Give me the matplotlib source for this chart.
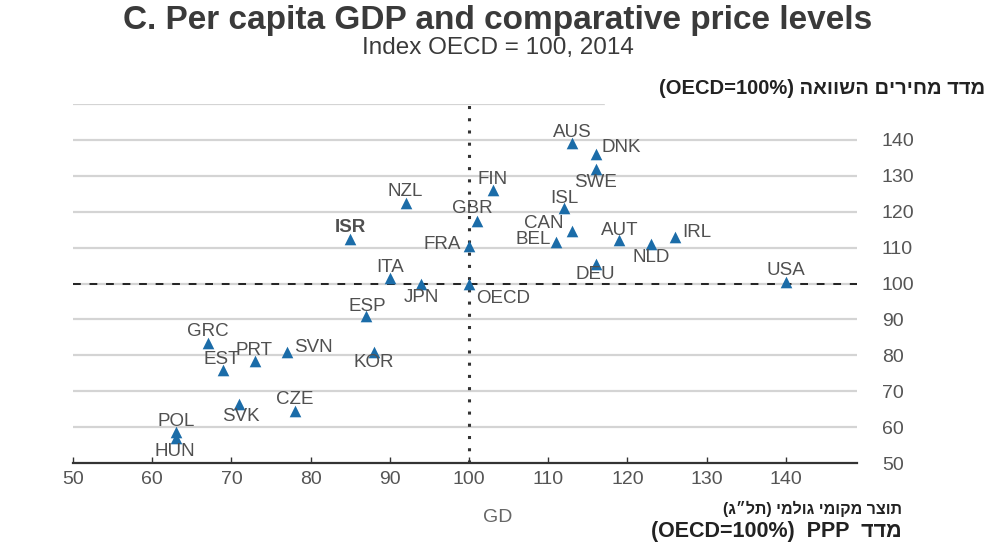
import matplotlib.pyplot as plt
from matplotlib.patches import Rectangle

# data: GDP per capita (x) and price level (y), OECD = 100
countries = ["AUS", "DNK", "SWE", "FIN", "ISL", "CAN", "BEL", "AUT", "NLD", "IRL",
             "DEU", "USA", "OECD", "GBR", "FRA", "NZL", "ISR", "ITA", "JPN", "ESP",
             "GRC", "PRT", "SVN", "EST", "KOR", "CZE", "SVK", "POL", "HUN"]
gdp = [113, 116, 116, 103, 112, 113, 111, 119, 123, 126,
       116, 140, 100, 101, 100, 92, 85, 90, 94, 87,
       67, 73, 77, 69, 88, 78, 71, 63, 63]
prices = [139, 136, 132, 126, 121, 114.5, 111.5, 112, 111, 113,
          105.5, 100.5, 100, 117.5, 110.5, 122.5, 112.5, 101.5, 100, 91,
          83.5, 78.5, 81, 76, 81, 64.5, 66.5, 58.5, 57]

x_ticks = [50, 60, 70, 80, 90, 100, 110, 120, 130, 140]
y_ticks = [50, 60, 70, 80, 90, 100, 110, 120, 130, 140]

# label placement (offset in points, alignment)
label_pos = {
    "AUS": (0, 8, "center"), "DNK": (4, 5, "left"), "SWE": (0, -10, "center"),
    "FIN": (0, 8, "center"), "ISL": (0, 7, "center"), "CAN": (-6, 6, "right"),
    "BEL": (-4, 2, "right"), "AUT": (0, 7, "center"), "NLD": (0, -10, "center"),
    "IRL": (5, 3, "left"), "DEU": (0, -8, "center"), "USA": (0, 8, "center"),
    "OECD": (5, -11, "left"), "GBR": (-3, 9, "center"), "FRA": (-6, 1, "right"),
    "NZL": (0, 8, "center"), "ISR": (0, 8, "center"), "ITA": (0, 8, "center"),
    "JPN": (0, -10, "center"), "ESP": (1, 7, "center"), "GRC": (0, 8, "center"),
    "PRT": (-1, 7, "center"), "SVN": (5, 3, "left"), "EST": (-1, 7, "center"),
    "KOR": (0, -8, "center"), "CZE": (0, 8, "center"), "SVK": (1, -9, "center"),
    "POL": (0, 8, "center"), "HUN": (-1, -10, "center"),
}

plt.rcParams["font.family"] = ["Liberation Sans", "DejaVu Sans"]
grey = "#505050"
blue = "#1b6ca8"

fig = plt.figure(figsize=(9.95, 5.44), dpi=100)
ax = fig.add_axes([73 / 995, 1 - 463 / 544, (857 - 73) / 995, (463 - 104) / 544])

ax.set_xlim(50, 149)
ax.set_ylim(50, 150)

for v in y_ticks[1:] + [150]:
    ax.axhline(v, color="#d4d4d4", lw=1.6, zorder=0)
ax.axhline(100, color="#222222", lw=1.4, ls=(0, (4, 4.5)), zorder=1)
ax.axvline(100, color="#333333", lw=2.2, ls=(0, (1, 3)), zorder=1)

ax.scatter(gdp, prices, marker="^", s=70, color=blue, zorder=3, linewidths=0)

for c, x, y in zip(countries, gdp, prices):
    dx, dy, ha = label_pos[c]
    ax.annotate(c, (x, y), xytext=(dx, dy), textcoords="offset points",
                ha=ha, va="center", fontsize=13.5, color=grey,
                fontweight="bold" if c == "ISR" else "normal", zorder=4)

for s in ["top", "right", "left"]:
    ax.spines[s].set_visible(False)
ax.spines["bottom"].set_color("#333333")
ax.spines["bottom"].set_linewidth(1.6)

ax.set_xticks(x_ticks)
ax.set_yticks(y_ticks)
ax.yaxis.tick_right()
ax.tick_params(axis="x", direction="in", length=4, width=1, color="#333333",
               labelsize=14, labelcolor="#555555", pad=6)
ax.tick_params(axis="y", length=0, labelsize=14, labelcolor="#555555", pad=18)

fig.text(0.5, 0.963, "C. Per capita GDP and comparative price levels",
         ha="center", va="center", fontsize=24, fontweight="bold", color="#3a3a3a")
fig.text(0.5, 0.912, "Index OECD = 100, 2014", ha="center", va="center",
         fontsize=17.5, color="#3a3a3a")

# white patches over the top-right corner and the x label, as in the source image
fig.patches.append(Rectangle((605 / 995, 1 - 109 / 544), 390 / 995, 40 / 544,
                             transform=fig.transFigure, color="white", zorder=10))
fig.text(483 / 995, 1 - 517 / 544, "GDP per capita", ha="left", va="center",
         fontsize=14, color="#666666", zorder=9)
fig.patches.append(Rectangle((513 / 995, 1 - 530 / 544), 200 / 995, 26 / 544,
                             transform=fig.transFigure, color="white", zorder=10))

# Hebrew labels (written in visual order)
top_heb = "(OECD=100%) " + "מדד מחירים השוואה"[::-1]
fig.text(985 / 995, 1 - 88 / 544, top_heb, ha="right", va="center",
         fontsize=14.5, fontweight="bold", color="#222222", zorder=11)
bot1 = "(" + "תל״ג"[::-1] + ") " + "תוצר מקומי גולמי"[::-1]
fig.text(902 / 995, 1 - 509 / 544, bot1, ha="right", va="center",
         fontsize=11.5, fontweight="bold", color="#222222", zorder=11)
bot2 = "(OECD=100%)  PPP  " + "מדד"[::-1]
fig.text(902 / 995, 1 - 531 / 544, bot2, ha="right", va="center",
         fontsize=15.5, fontweight="bold", color="#222222", zorder=11)

fig.savefig("out.png", dpi=100)
